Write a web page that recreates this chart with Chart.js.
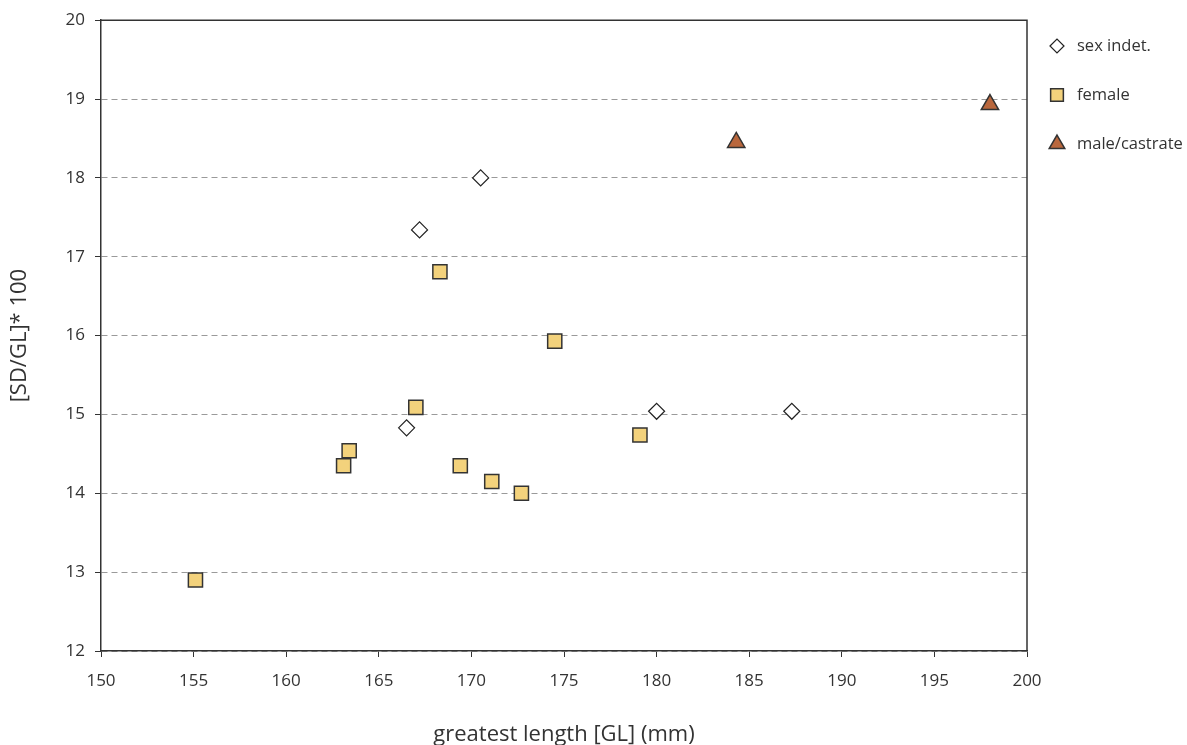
<!DOCTYPE html>
<html>
<head>
<meta charset="utf-8">
<script src="https://cdn.jsdelivr.net/npm/chart.js@4/dist/chart.umd.min.js"></script>
<style>
  html, body { margin: 0; padding: 0; background: #fff; }
  #wrap { width: 1187px; height: 745px; }
</style>
</head>
<body>
<div id="wrap"><canvas id="scatter"></canvas></div>
<script>
// greatest length (mm) vs. [SD/GL]*100
const indetX = [167.2, 170.5, 166.5, 180.0, 187.3];
const indetY = [17.34, 18.0, 14.83, 15.04, 15.04];

const femaleX = [155.1, 163.1, 163.4, 167.0, 168.3, 169.4, 171.1, 172.7, 174.5, 179.1];
const femaleY = [12.9, 14.35, 14.54, 15.09, 16.81, 14.35, 14.15, 14.0, 15.93, 14.74];

const maleX = [184.3, 198.0];
const maleY = [18.45, 18.93];

const seriesNames = ["sex indet.", "female", "male/castrate"];

const toPoints = (xs, ys) => xs.map((x, i) => ({ x: x, y: ys[i] }));

const FONT = "'Open Sans', 'Noto Sans', sans-serif";
const TEXT = "#333";

// plot frame (top and right edges) + legend on the right
const framePlugin = {
  id: "frame",
  afterDraw(chart) {
    const { ctx, chartArea: a } = chart;
    ctx.save();
    ctx.setLineDash([]);
    ctx.strokeStyle = "#333";
    ctx.lineWidth = 1.5;
    ctx.beginPath();
    ctx.moveTo(a.left, a.top);
    ctx.lineTo(a.right, a.top);
    ctx.lineTo(a.right, a.bottom);
    ctx.stroke();

    // legend
    const x0 = 1057, y0 = 46, step = 49;
    chart.data.datasets.forEach((ds, i) => {
      const y = y0 + i * step;
      ctx.fillStyle = ds.backgroundColor;
      ctx.strokeStyle = ds.borderColor;
      ctx.lineWidth = ds.borderWidth;
      Chart.helpers.drawPoint(ctx, {
        pointStyle: ds.pointStyle,
        radius: ds.legendRadius,
        rotation: 0,
        borderWidth: ds.borderWidth,
      }, x0, y);
      ctx.fillStyle = TEXT;
      ctx.font = "16.5px " + FONT;
      ctx.textBaseline = "middle";
      ctx.textAlign = "left";
      ctx.fillText(ds.label, 1077, y);
    });
    ctx.restore();
  },
};

const data = {
  datasets: [
    {
      label: seriesNames[0],
      data: toPoints(indetX, indetY),
      pointStyle: "rectRot",
      pointRadius: 8,
      legendRadius: 7,
      backgroundColor: "#ffffff",
      borderColor: "#222",
      borderWidth: 1.2,
    },
    {
      label: seriesNames[1],
      data: toPoints(femaleX, femaleY),
      pointStyle: "rect",
      pointRadius: 10,
      legendRadius: 9,
      backgroundColor: "#f3d27c",
      borderColor: "#333",
      borderWidth: 1.5,
    },
    {
      label: seriesNames[2],
      data: toPoints(maleX, maleY),
      pointStyle: "triangle",
      pointRadius: 10,
      legendRadius: 9,
      backgroundColor: "#b9673d",
      borderColor: "#333",
      borderWidth: 1.5,
    },
  ],
};

const config = {
  type: "scatter",
  data: data,
  plugins: [framePlugin],
  options: {
    responsive: true,
    maintainAspectRatio: false,
    animation: false,
    layout: { padding: { top: 20, right: 160, bottom: 0, left: 0 } },
    plugins: {
      legend: { display: false },
      tooltip: { enabled: false },
    },
    scales: {
      x: {
        type: "linear",
        min: 150,
        max: 200,
        afterFit: (scale) => { scale.height = 94; },
        ticks: {
          stepSize: 5,
          padding: 14,
          color: TEXT,
          font: { family: FONT, size: 17 },
        },
        grid: {
          drawOnChartArea: false,
          drawTicks: true,
          tickLength: 6,
          tickColor: "#333",
          tickWidth: 1,
        },
        border: { color: "#333", width: 1.5 },
        title: {
          display: true,
          text: "greatest length [GL] (mm)",
          color: TEXT,
          font: { family: FONT, size: 22, lineHeight: 1.0 },
          padding: { top: 0, bottom: -1 },
        },
      },
      y: {
        type: "linear",
        min: 12,
        max: 20,
        afterFit: (scale) => { scale.width = 101; },
        ticks: {
          stepSize: 1,
          padding: 10,
          color: TEXT,
          font: { family: FONT, size: 17 },
        },
        grid: {
          color: "#9a9a9a",
          lineWidth: 1,
          tickLength: 6,
          tickColor: "#333",
          tickBorderDash: [],
        },
        // border.dash dashes the horizontal grid lines
        border: { color: "#333", width: 1.5, dash: [6, 4] },
        title: {
          display: true,
          text: "[SD/GL]* 100",
          color: TEXT,
          font: { family: FONT, size: 22, lineHeight: 1.0 },
          padding: { top: 9, bottom: 0 },
        },
      },
    },
  },
};

new Chart(document.getElementById("scatter").getContext("2d"), config);
</script>
</body>
</html>
